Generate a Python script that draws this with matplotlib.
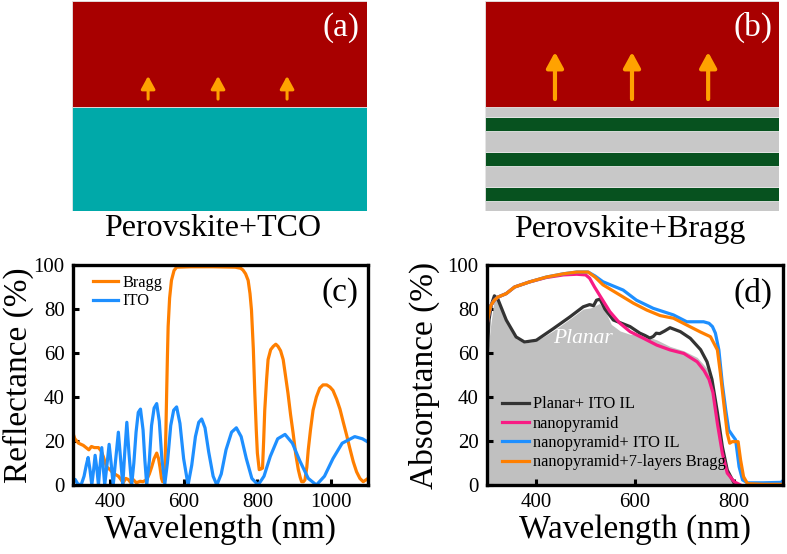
import matplotlib
matplotlib.use('Agg')
import matplotlib.pyplot as plt

plt.rcParams['font.family'] = ['Liberation Serif', 'DejaVu Serif']

# ---------------- data: panel (c) reflectance ----------------
wl_bragg_c = [300, 305, 315, 328, 343, 350, 358, 369, 376, 382, 391, 400, 409, 423, 430, 436,
              443, 450, 457, 463, 472, 482, 490, 500, 507, 513, 520, 527, 532, 536, 540, 543,
              547, 549, 552, 554, 556, 558, 562, 567, 574, 581, 620, 680, 740, 755, 761, 768,
              775, 780, 784, 789, 793, 797, 800, 805, 810, 814, 817, 820, 825, 829, 836, 843,
              850, 856, 863, 870, 876, 883, 890, 897, 904, 911, 916, 920, 925, 929, 934, 938,
              944, 951, 960, 969, 978, 988, 997, 1005, 1015, 1024, 1033, 1042, 1051, 1060,
              1069, 1078, 1087, 1096, 1100]
refl_bragg = [23.5, 21, 19, 18, 16, 17.5, 17, 17, 15.5, 13, 8.3, 7, 5.4, 4, 2.5, 1,
              3, 2.5, 1, 2.5, 1, 1.7, 1.5, 2.5, 5, 8, 12, 14.5, 12, 8, 3, 1.5,
              2, 5, 25, 42, 58, 72, 85, 93, 97.5, 99, 99.2, 99.2, 99, 98.5, 97.7, 96,
              93, 87, 79.5, 62, 42, 25, 14.5, 7, 7.3, 7.7, 20, 34, 48, 57, 61.5, 63,
              64, 63, 61, 57, 50, 41.7, 32, 23.5, 14, 7, 3.5, 1.5, 1.5, 2.3, 8, 16,
              25, 34, 40, 44, 45.5, 45.5, 44.5, 43, 39, 34.5, 28.5, 22.7, 16.5, 10.6,
              6, 3, 1.5, 2.5, 3]

wl_ito_c = [300, 306, 313, 322, 330, 336, 341, 346, 351, 356, 360, 365, 369, 373, 378, 382,
            386, 392, 398, 404, 409, 416, 423, 429, 435, 440, 446, 452, 459, 465, 471, 477,
            483, 490, 495, 500, 507, 513, 520, 527, 534, 541, 549, 556, 565, 573, 581, 590,
            600, 612, 622, 632, 641, 649, 658, 668, 680, 690, 702, 715, 730, 743, 756, 770,
            785, 802, 818, 835, 855, 875, 895, 915, 938, 960, 982, 1005, 1030, 1064, 1085, 1100]
refl_ito = [2.5, 2.5, 0.5, 0, 4, 9, 12.5, 7, 0, 7, 13.5, 7, 0, 8, 17, 8,
            0, 9, 18.5, 9, 0, 12, 24, 12, 0, 14, 28.5, 14, 0, 10, 24, 33,
            34.5, 25, 11, 0, 11, 27, 35, 37, 29, 12, 0.5, 10, 27, 34, 35.5, 28,
            12, 0, 9, 22, 28.5, 30, 26, 15, 4, 0, 5, 16, 24, 26, 22, 12,
            3, 0, 4, 13, 21, 23, 19, 11, 3, 0, 4, 12, 19, 22, 21, 19.5]

# ---------------- data: panel (d) absorptance ----------------
wl_planar = [300, 307, 315, 322, 339, 359, 376, 400, 434, 468, 495, 510, 528, 540, 552, 570,
             590, 617, 644, 671, 699, 726, 746, 756, 767, 777, 787, 797, 801]
abs_planar = [57, 72, 85, 83.5, 74, 66.5, 64.5, 65.5, 70, 75.5, 80, 80.5, 82.5, 79, 73, 70,
              68.5, 68, 66, 63, 61, 58, 53, 46, 31, 17, 6, 1, 0]

wl_planar_ito = [300, 304, 309, 315, 322, 339, 359, 376, 400, 434, 468, 495, 508, 516, 522, 529,
                 539, 556, 573, 590, 610, 620, 630, 637, 643, 650, 660, 671, 692, 712, 733, 746,
                 756, 767, 777, 787, 801, 806]
abs_planar_ito = [57, 75, 82, 86, 84.5, 75, 67.3, 65, 65.8, 71, 76.4, 81, 82, 81.5, 84, 84.5,
                  80, 75, 73.5, 72, 69, 68, 66.8, 67.5, 69, 68.8, 70, 71.5, 69.7, 66.7, 61.5, 56,
                  48, 33, 17.5, 6.8, 0.8, 0]

wl_pyr = [300, 304, 308, 315, 322, 339, 356, 386, 420, 455, 482, 500, 508, 518, 529, 549,
          569, 590, 617, 644, 671, 699, 726, 740, 750, 758, 767, 777, 787, 801, 814]
abs_pyr = [72.6, 78, 81.7, 84, 85.4, 87, 90, 92.3, 94.3, 95.5, 95.8, 95.5, 94, 90, 86, 78.8,
           73.6, 69.7, 66.7, 63.6, 61.4, 59.8, 56, 52, 48, 42, 28, 14.5, 5.4, 1.5, 0]

wl_pyr_ito = [300, 304, 308, 315, 322, 339, 356, 386, 420, 455, 482, 505, 519, 535, 576, 603,
              637, 678, 705, 739, 750, 757, 763, 770, 777, 784, 790, 797, 804, 811, 818, 828,
              860, 896, 900]
abs_pyr_ito = [72.6, 78, 81.7, 84, 85.4, 87, 90, 92.3, 94.5, 96, 96.8, 96.8, 95, 92.4, 88.6, 84,
               80.3, 77.3, 74.2, 74.2, 73.5, 72, 69, 61.4, 46, 34, 25, 22.7, 20.5, 8.3, 2.3, 1,
               1, 1.2, 2]

wl_pyr_bragg = [300, 304, 308, 315, 322, 339, 356, 386, 420, 455, 482, 505, 519, 535, 569, 597,
                624, 651, 678, 705, 733, 753, 767, 773, 780, 787, 792, 797, 809, 814, 820, 828,
                860, 900]
abs_pyr_bragg = [72.6, 78, 81.7, 84, 85.4, 87, 90, 92.3, 94.5, 96, 96.8, 96.8, 94.5, 91, 86.4, 82.6,
                 79.5, 77, 75.8, 72.7, 69.5, 67.4, 61.4, 51, 37, 23.5, 19, 19.7, 19.7, 11.4, 3.8, 0.6,
                 0.3, 0.3]

labels_d = ['Planar+ ITO IL', 'nanopyramid', 'nanopyramid+ ITO IL', 'nanopyramid+7-layers Bragg']

# ---------------- schematic layer stacks (bottom -> top), relative thickness ----------------
layers_a = [('#00a9a9', 104), ('#a80000', 106)]
layers_b = [('#c8c8c8', 10), ('#07521f', 14), ('#c8c8c8', 21), ('#07521f', 14),
            ('#c8c8c8', 21), ('#07521f', 14), ('#c8c8c8', 10), ('#a80000', 106)]

C_ORANGE = '#ff7f00'
C_BLUE = '#1e8fff'
C_PINK = '#f81b84'
C_DARK = '#333333'
C_ARROW = '#ffa200'

W, H = 787, 554
fig = plt.figure(figsize=(W / 100, H / 100), dpi=100)


def px_axes(l, t, r, b):
    return fig.add_axes([l / W, 1 - b / H, (r - l) / W, (b - t) / H])


def draw_stack(ax, layers, arrow_x, arrow_y0, arrow_y1, head_scale, lw, label):
    bottom = 0
    for color, th in layers:
        ax.bar(0.5, th, bottom=bottom, width=1.0, color=color, edgecolor='#e6e6e6', linewidth=0.6)
        bottom += th
    ax.set_xlim(0, 1)
    ax.set_ylim(0, bottom)
    ax.axis('off')
    for x in arrow_x:
        ax.annotate('', xy=(x, arrow_y1 * bottom), xytext=(x, arrow_y0 * bottom),
                    arrowprops=dict(arrowstyle='-|>,head_length=0.55,head_width=0.3',
                                    mutation_scale=head_scale, color=C_ARROW, lw=lw,
                                    shrinkA=0, shrinkB=0))
    ax.text(0.912, 0.875, label, transform=ax.transAxes, color='white', fontsize=24,
            ha='center', va='center')


ax_a = px_axes(72, 1, 367, 211)
draw_stack(ax_a, layers_a, [0.258, 0.495, 0.729], 0.533, 0.643, 14, 2.2, '(a)')
fig.text(213 / W, 1 - 229 / H, 'Perovskite+TCO', fontsize=23, ha='center', va='center')

ax_b = px_axes(485, 1, 779, 211)
draw_stack(ax_b, layers_b, [0.238, 0.5, 0.759], 0.533, 0.757, 17, 3.0, '(b)')
fig.text(630 / W, 1 - 229 / H, 'Perovskite+Bragg', fontsize=23, ha='center', va='center')


def style_axes(ax, xticks, xlim):
    ax.set_xlim(*xlim)
    ax.set_ylim(0, 100)
    ax.set_xticks(xticks)
    ax.set_yticks([0, 20, 40, 60, 80, 100])
    for s in ax.spines.values():
        s.set_linewidth(2.4)
        s.set_zorder(5)
    ax.tick_params(direction='in', length=4, width=2.2, labelsize=15, pad=6,
                   top=False, right=False)
    ax.set_xlabel('Wavelength (nm)', fontsize=24, labelpad=1)


# ---------------- panel (c) ----------------
ax_c = px_axes(73, 265, 368, 485)
ax_c.plot(wl_bragg_c, refl_bragg, color=C_ORANGE, lw=2.3, label='Bragg')
ax_c.plot(wl_ito_c, refl_ito, color=C_BLUE, lw=2.3, label='ITO')
style_axes(ax_c, [400, 600, 800, 1000], (300, 1100))
ax_c.set_ylabel('Reflectance (%)', fontsize=24)
ax_c.yaxis.set_label_coords(-0.133, 0.5)
ax_c.legend(loc='upper left', bbox_to_anchor=(0.045, 0.985), frameon=False, fontsize=11.8,
            handlelength=1.55, handletextpad=0.25, labelspacing=0.15, borderaxespad=0)
ax_c.text(0.905, 0.873, '(c)', transform=ax_c.transAxes, fontsize=24, ha='center', va='center')

# ---------------- panel (d) ----------------
ax_d = px_axes(487, 265, 783, 485)
ax_d.fill_between(wl_planar, 0, abs_planar, color='#c0c0c0', lw=0, zorder=1)
ax_d.plot(wl_planar_ito, abs_planar_ito, color=C_DARK, lw=2.3, label=labels_d[0], zorder=2)
ax_d.plot(wl_pyr, abs_pyr, color=C_PINK, lw=2.3, label=labels_d[1], zorder=3)
ax_d.plot(wl_pyr_ito, abs_pyr_ito, color=C_BLUE, lw=2.3, label=labels_d[2], zorder=4)
ax_d.plot(wl_pyr_bragg, abs_pyr_bragg, color=C_ORANGE, lw=2.3, label=labels_d[3], zorder=4.5)
style_axes(ax_d, [400, 600, 800], (300, 900))
ax_d.set_ylabel('Absorptance (%)', fontsize=24)
ax_d.yaxis.set_label_coords(-0.16, 0.5)
ax_d.legend(loc='lower left', bbox_to_anchor=(0.03, 0.037), frameon=False, fontsize=11.8,
            handlelength=1.65, handletextpad=0.2, labelspacing=0.2, borderaxespad=0)
ax_d.text(494, 66.8, 'Planar', color='white', fontsize=15.5, style='italic',
          ha='center', va='center', zorder=2.5)
ax_d.text(0.899, 0.87, '(d)', transform=ax_d.transAxes, fontsize=24, ha='center', va='center')

fig.savefig('out.png', dpi=100)
